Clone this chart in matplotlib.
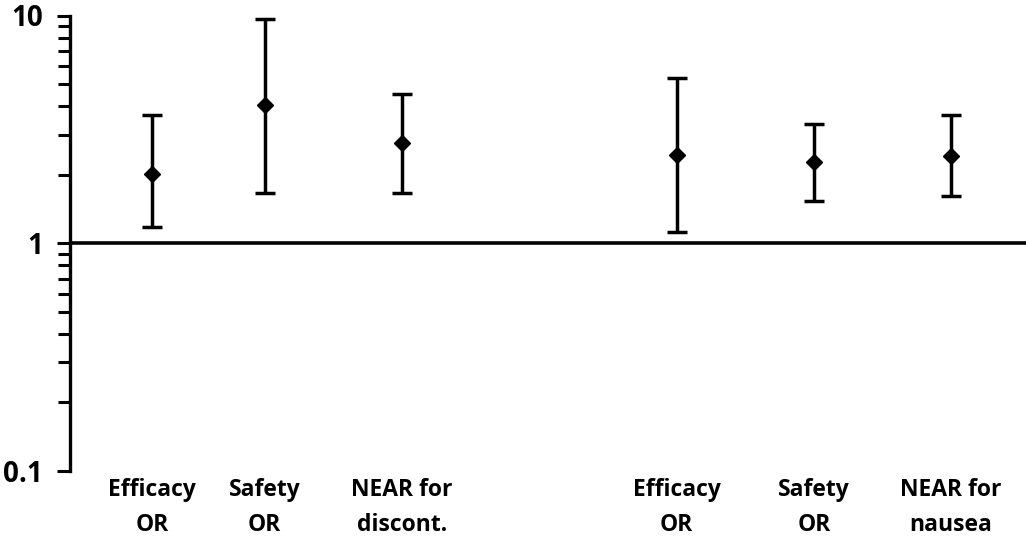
import matplotlib
matplotlib.use("Agg")
import matplotlib.pyplot as plt
import numpy as np

plt.rcParams["font.family"] = ["Open Sans", "DejaVu Sans"]

labels = ["Efficacy\nOR", "Safety\nOR", "NEAR for\ndiscont.",
          "Efficacy\nOR", "Safety\nOR", "NEAR for\nnausea"]
estimate = [2.02, 4.03, 2.75, 2.44, 2.27, 2.41]
ci_low = [1.18, 1.66, 1.66, 1.12, 1.53, 1.61]
ci_high = [3.66, 9.7, 4.52, 5.33, 3.35, 3.64]
positions = [1.18, 2, 3, 5, 6, 7]

est = np.array(estimate)
yerr = np.vstack([est - np.array(ci_low), np.array(ci_high) - est])

fig = plt.figure(figsize=(10.26, 5.38), dpi=100)
ax = fig.add_axes([70 / 1026, 1 - 471 / 538, 1 - 70 / 1026, (471 - 15.5) / 538])

ax.errorbar(positions, est, yerr=yerr, fmt="D", color="black", markersize=8.5,
            elinewidth=2.5, capsize=7.5, capthick=2.5, zorder=3)
ax.axhline(1, color="black", lw=2.6, zorder=2)

ax.set_yscale("log")
ax.set_ylim(0.1, 10)
ax.set_xlim(0.582, 7.545)
ax.set_yticks([0.1, 1, 10])
ax.set_yticklabels(["0.1", "1", "10"])
ax.tick_params(axis="y", which="major", length=9.5, width=2.2, pad=10,
               labelsize=20)
ax.tick_params(axis="y", which="minor", length=9, width=2.2)
for lab in ax.get_yticklabels():
    lab.set_fontweight("bold")
ax.yaxis.set_minor_formatter(matplotlib.ticker.NullFormatter())

ax.set_xticks(positions)
ax.set_xticklabels(labels, fontsize=16.5, fontweight="bold", linespacing=1.6)
ax.tick_params(axis="x", length=0, pad=5)

for side in ["top", "right", "bottom"]:
    ax.spines[side].set_visible(False)
ax.spines["left"].set_linewidth(2.4)

fig.savefig("out.png", dpi=100)
